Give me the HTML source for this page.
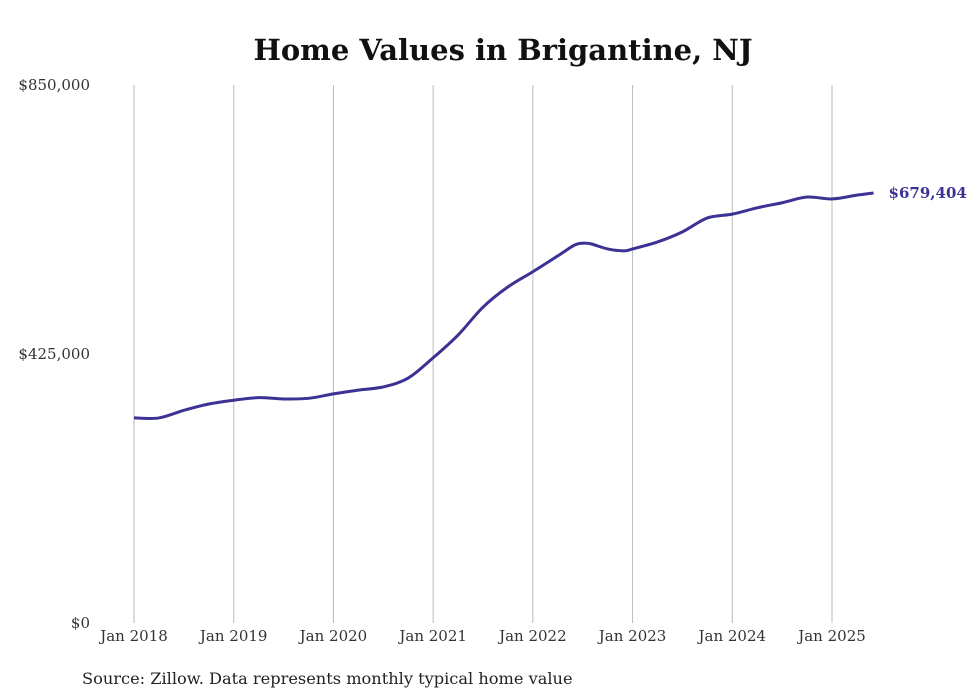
<!DOCTYPE html>
<html><head><meta charset="utf-8"><style>
body{margin:0;background:#fff;}
svg{display:block;font-family:"DejaVu Serif","Liberation Serif",serif;}
</style></head><body>
<svg id="chart" width="980" height="699">
<text x="503" y="60" text-anchor="middle" font-size="29" font-weight="bold" fill="#111">Home Values in Brigantine, NJ</text>
<g id="grid"></g><g id="yticks"></g><g id="xticks"></g>
<path id="line" fill="none" stroke="#3b3294" stroke-width="3"></path>
<text id="endlabel" font-size="15" font-weight="bold" fill="#3b3294"></text>
<text x="82" y="684" font-size="16.2" fill="#222">Source: Zillow. Data represents monthly typical home value</text>
</svg>
<script>
const months=[0,3,6,9,12,15,18,21,24,27,30,33,36,39,42,45,48,51,53,54,55,57,59,60,63,66,69,72,75,78,81,84,87,89];
const values=[324,324,336,346,352,356,354,355,362,368,373,387,419,455,499,531,555,580,597,600,599,591,588,591,602,618,640,646,656,664,673,670,676,679.404];
const xLabels=["Jan 2018","Jan 2019","Jan 2020","Jan 2021","Jan 2022","Jan 2023","Jan 2024","Jan 2025"];
const yTicks=[0,425,850];
const yTickLabels=["$0","$425,000","$850,000"];
const endLabel="$679,404";
const NS="http://www.w3.org/2000/svg";
const x=m=>134+m*(698/84);
const y=v=>623-v*(538/850);
function mk(t,a,p){const e=document.createElementNS(NS,t);for(const k in a)e.setAttribute(k,a[k]);p.appendChild(e);return e;}
const grid=document.getElementById('grid'),xt=document.getElementById('xticks'),yt=document.getElementById('yticks');
xLabels.forEach((l,i)=>{
 const ln=mk('line',{x1:x(i*12),x2:x(i*12),y1:85,y2:623,stroke:'#bbb','stroke-width':1},grid);
 
 
 const t=mk('text',{x:x(i*12),y:641,'text-anchor':'middle','font-size':15,fill:'#333'},xt);t.textContent=l;
 
 
});
yTicks.forEach((v,i)=>{
 const t=mk('text',{x:90,y:y(v)+5,'text-anchor':'end','font-size':15,fill:'#333'},yt);t.textContent=yTickLabels[i];
 
 
});
const P=months.map((m,i)=>[x(m),y(values[i])]);
let d=`M${P[0][0]},${P[0][1]}`;
for(let i=0;i<P.length-1;i++){
 const p0=P[i-1]||P[i],p1=P[i],p2=P[i+1],p3=P[i+2]||P[i+1];
 d+=` C${p1[0]+(p2[0]-p0[0])/6},${p1[1]+(p2[1]-p0[1])/6} ${p2[0]-(p3[0]-p1[0])/6},${p2[1]-(p3[1]-p1[1])/6} ${p2[0]},${p2[1]}`;
}
document.getElementById('line').setAttribute('d',d);
const el=document.getElementById('endlabel');
const last=P[P.length-1];
el.setAttribute('x',last[0]+15);el.setAttribute('y',last[1]+5);el.textContent=endLabel;
</script>
</body></html>
